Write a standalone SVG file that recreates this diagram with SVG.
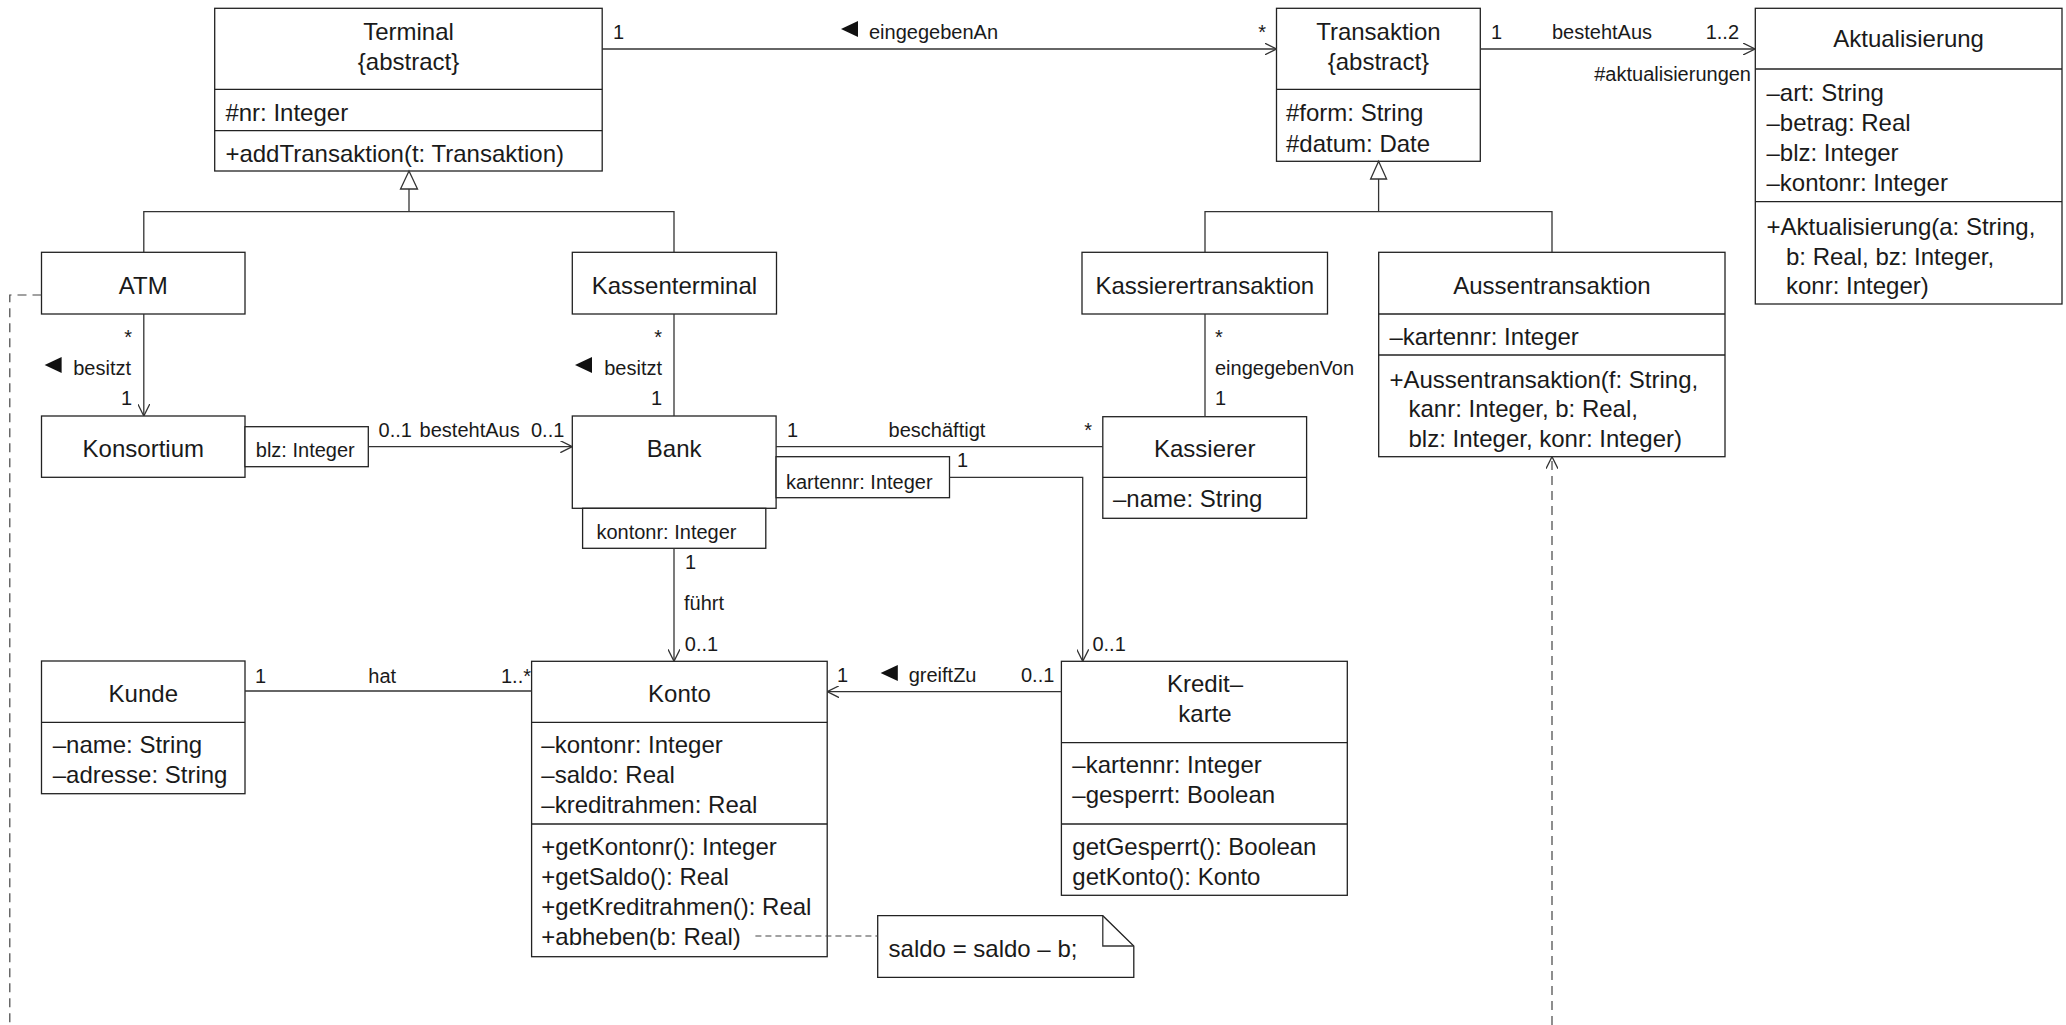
<svg xmlns="http://www.w3.org/2000/svg" width="2066" height="1025" viewBox="0 0 2066 1025">
<style>
  .box{fill:#fff;stroke:#222;stroke-width:1.3}
  .div{stroke:#222;stroke-width:1.3}
  .ln{fill:none;stroke:#333;stroke-width:1.3}
  .dash{fill:none;stroke:#444;stroke-width:1.2;stroke-dasharray:9,6}
  .ndash{fill:none;stroke:#444;stroke-width:1.2;stroke-dasharray:6,4}
  .t{font-family:"Liberation Sans",Arial,sans-serif;font-size:24px;fill:#1a1a1a}
  .c{text-anchor:middle}
  .s{font-family:"Liberation Sans",Arial,sans-serif;font-size:20px;fill:#1a1a1a}
  .e{text-anchor:end}
  .tri{fill:#111}
  .gen{fill:#fff;stroke:#333;stroke-width:1.3}
</style>
<defs>
  <marker id="open" viewBox="0 0 12 12" refX="12" refY="6" markerWidth="12" markerHeight="12" markerUnits="userSpaceOnUse" orient="auto">
    <path d="M0,0 L12,6 L0,12" fill="none" stroke="#333" stroke-width="1.3"/>
  </marker>
</defs>

<g id="Terminal">
  <rect class="box" x="214.7" y="8.3" width="387.5" height="162.7"/>
  <line class="div" x1="214.7" y1="89.3" x2="602.2" y2="89.3"/>
  <line class="div" x1="214.7" y1="130.7" x2="602.2" y2="130.7"/>
  <text class="t c" x="408.5" y="39.5">Terminal</text>
  <text class="t c" x="408.5" y="69.5">{abstract}</text>
  <text class="t" x="225.4" y="121">#nr: Integer</text>
  <text class="t" x="225.4" y="162">+addTransaktion(t: Transaktion)</text>
</g>

<g id="Transaktion">
  <rect class="box" x="1276.5" y="8.3" width="203.8" height="153"/>
  <line class="div" x1="1276.5" y1="89.3" x2="1480.3" y2="89.3"/>
  <text class="t c" x="1378.4" y="39.5">Transaktion</text>
  <text class="t c" x="1378.4" y="69.5">{abstract}</text>
  <text class="t" x="1286" y="121">#form: String</text>
  <text class="t" x="1286" y="151.5">#datum: Date</text>
</g>

<g id="Aktualisierung">
  <rect class="box" x="1755.3" y="8.3" width="306.7" height="295.7"/>
  <line class="div" x1="1755.3" y1="69" x2="2062" y2="69"/>
  <line class="div" x1="1755.3" y1="201.7" x2="2062" y2="201.7"/>
  <text class="t c" x="1908.6" y="47">Aktualisierung</text>
  <text class="t" x="1766.5" y="101">–art: String</text>
  <text class="t" x="1766.5" y="131">–betrag: Real</text>
  <text class="t" x="1766.5" y="161">–blz: Integer</text>
  <text class="t" x="1766.5" y="191">–kontonr: Integer</text>
  <text class="t" x="1766.5" y="235">+Aktualisierung(a: String,</text>
  <text class="t" x="1786" y="264.5">b: Real, bz: Integer,</text>
  <text class="t" x="1786" y="294">konr: Integer)</text>
</g>

<g id="ATM">
  <rect class="box" x="41.5" y="252.3" width="203.5" height="61.7"/>
  <text class="t c" x="143.3" y="294">ATM</text>
</g>

<g id="Kassenterminal">
  <rect class="box" x="572.3" y="252.3" width="204.2" height="61.7"/>
  <text class="t c" x="674.4" y="294">Kassenterminal</text>
</g>

<g id="Kassierertransaktion">
  <rect class="box" x="1082" y="252.3" width="245.5" height="61.7"/>
  <text class="t c" x="1204.8" y="294">Kassierertransaktion</text>
</g>

<g id="Aussentransaktion">
  <rect class="box" x="1378.7" y="252.3" width="346.3" height="204.4"/>
  <line class="div" x1="1378.7" y1="314" x2="1725" y2="314"/>
  <line class="div" x1="1378.7" y1="355" x2="1725" y2="355"/>
  <text class="t c" x="1551.9" y="294">Aussentransaktion</text>
  <text class="t" x="1389.4" y="345">–kartennr: Integer</text>
  <text class="t" x="1389.4" y="387.5">+Aussentransaktion(f: String,</text>
  <text class="t" x="1408.5" y="417">kanr: Integer, b: Real,</text>
  <text class="t" x="1408.5" y="446.5">blz: Integer, konr: Integer)</text>
</g>

<g id="Konsortium">
  <rect class="box" x="41.5" y="416" width="203.5" height="61.3"/>
  <text class="t c" x="143.3" y="456.7">Konsortium</text>
  <rect class="box" x="245" y="426.7" width="123.3" height="40"/>
  <text class="s" x="255.8" y="457">blz: Integer</text>
</g>

<g id="Bank">
  <rect class="box" x="572.3" y="416" width="203.8" height="92.3"/>
  <text class="t c" x="674.2" y="456.7">Bank</text>
  <rect class="box" x="776.1" y="456.7" width="173.4" height="41"/>
  <text class="s" x="785.9" y="488.5">kartennr: Integer</text>
  <rect class="box" x="582.6" y="508.3" width="183.2" height="40"/>
  <text class="s" x="596.4" y="539">kontonr: Integer</text>
</g>

<g id="Kassierer">
  <rect class="box" x="1102.8" y="416.7" width="203.8" height="101.6"/>
  <line class="div" x1="1102.8" y1="477.3" x2="1306.6" y2="477.3"/>
  <text class="t c" x="1204.7" y="456.5">Kassierer</text>
  <text class="t" x="1113" y="506.7">–name: String</text>
</g>

<g id="Kunde">
  <rect class="box" x="41.5" y="661" width="203.5" height="132.7"/>
  <line class="div" x1="41.5" y1="722.3" x2="245" y2="722.3"/>
  <text class="t c" x="143.3" y="701.7">Kunde</text>
  <text class="t" x="52.7" y="753.3">–name: String</text>
  <text class="t" x="52.7" y="783.3">–adresse: String</text>
</g>

<g id="Konto">
  <rect class="box" x="531.6" y="661.3" width="295.6" height="295.4"/>
  <line class="div" x1="531.6" y1="722.3" x2="827.2" y2="722.3"/>
  <line class="div" x1="531.6" y1="824" x2="827.2" y2="824"/>
  <text class="t c" x="679.4" y="701.7">Konto</text>
  <text class="t" x="541.3" y="753">–kontonr: Integer</text>
  <text class="t" x="541.3" y="783.3">–saldo: Real</text>
  <text class="t" x="541.3" y="813.3">–kreditrahmen: Real</text>
  <text class="t" x="541.3" y="855">+getKontonr(): Integer</text>
  <text class="t" x="541.3" y="885">+getSaldo(): Real</text>
  <text class="t" x="541.3" y="915">+getKreditrahmen(): Real</text>
  <text class="t" x="541.3" y="945">+abheben(b: Real)</text>
</g>

<g id="Kreditkarte">
  <rect class="box" x="1061.4" y="661.3" width="285.9" height="234"/>
  <line class="div" x1="1061.4" y1="742.7" x2="1347.3" y2="742.7"/>
  <line class="div" x1="1061.4" y1="824" x2="1347.3" y2="824"/>
  <text class="t c" x="1205" y="691.7">Kredit–</text>
  <text class="t c" x="1205" y="721.7">karte</text>
  <text class="t" x="1072.3" y="772.7">–kartennr: Integer</text>
  <text class="t" x="1072.3" y="802.7">–gesperrt: Boolean</text>
  <text class="t" x="1072.3" y="855">getGesperrt(): Boolean</text>
  <text class="t" x="1072.3" y="885">getKonto(): Konto</text>
</g>

<g id="Note">
  <path class="box" d="M877.7,915.7 L1102.8,915.7 L1133.8,946 L1133.8,977.3 L877.7,977.3 Z"/>
  <polyline class="ln" points="1102.8,915.7 1102.8,946 1133.8,946"/>
  <text class="t" x="888.6" y="956.7">saldo = saldo – b;</text>
</g>

<g id="connectors">
  <!-- Terminal -> Transaktion eingegebenAn -->
  <line class="ln" x1="602" y1="49" x2="1276.5" y2="49" marker-end="url(#open)"/>
  <text class="s" x="613" y="39">1</text>
  <polygon class="tri" points="858,21 858,37 841,29"/>
  <text class="s" x="869" y="39">eingegebenAn</text>
  <text class="s e" x="1266" y="39">*</text>
  <!-- Transaktion -> Aktualisierung bestehtAus -->
  <line class="ln" x1="1480" y1="49" x2="1755" y2="49" marker-end="url(#open)"/>
  <text class="s" x="1491" y="39">1</text>
  <text class="s" x="1552" y="39">bestehtAus</text>
  <text class="s e" x="1739" y="39">1..2</text>
  <text class="s e" x="1751" y="81">#aktualisierungen</text>
  <!-- Terminal generalization -->
  <polyline class="ln" points="143.8,252.3 143.8,211.7 674,211.7 674,252.3"/>
  <line class="ln" x1="409" y1="189" x2="409" y2="211.7"/>
  <polygon class="gen" points="409,171 400.5,189 417.5,189"/>
  <!-- Transaktion generalization -->
  <polyline class="ln" points="1205,252.3 1205,211.7 1552,211.7 1552,252.3"/>
  <line class="ln" x1="1378.6" y1="179" x2="1378.6" y2="211.7"/>
  <polygon class="gen" points="1378.6,161.3 1370.6,179 1386.6,179"/>
  <!-- ATM -> Konsortium besitzt -->
  <line class="ln" x1="143.8" y1="314" x2="143.8" y2="416" marker-end="url(#open)"/>
  <text class="s e" x="132" y="344">*</text>
  <polygon class="tri" points="61.6,357 61.6,373 44.6,365"/>
  <text class="s e" x="131" y="375">besitzt</text>
  <text class="s e" x="132" y="405">1</text>
  <!-- Kassenterminal - Bank besitzt -->
  <line class="ln" x1="674" y1="314" x2="674" y2="416"/>
  <text class="s e" x="662" y="344">*</text>
  <polygon class="tri" points="592,357 592,373 575,365"/>
  <text class="s e" x="662" y="375">besitzt</text>
  <text class="s e" x="662" y="405">1</text>
  <!-- Kassierertransaktion - Kassierer eingegebenVon -->
  <line class="ln" x1="1205" y1="314" x2="1205" y2="416.7"/>
  <text class="s" x="1215" y="344">*</text>
  <text class="s" x="1215" y="375">eingegebenVon</text>
  <text class="s" x="1215" y="405">1</text>
  <!-- Konsortium -> Bank bestehtAus -->
  <line class="ln" x1="368.3" y1="446.7" x2="572.3" y2="446.7" marker-end="url(#open)"/>
  <text class="s" x="378.6" y="436.5">0..1</text>
  <text class="s" x="419.6" y="436.5">bestehtAus</text>
  <text class="s" x="531" y="436.5">0..1</text>
  <!-- Bank - Kassierer beschaeftigt -->
  <line class="ln" x1="776" y1="446.7" x2="1102.8" y2="446.7"/>
  <text class="s" x="787" y="436.7">1</text>
  <text class="s" x="888.6" y="436.7">beschäftigt</text>
  <text class="s e" x="1092" y="436.7">*</text>
  <!-- Bank (kartennr) -> Kreditkarte -->
  <polyline class="ln" points="949.5,477.3 1082.7,477.3 1082.7,661.3" marker-end="url(#open)"/>
  <text class="s" x="957" y="466.7">1</text>
  <text class="s" x="1092.4" y="651">0..1</text>
  <!-- Bank (kontonr) -> Konto fuehrt -->
  <line class="ln" x1="674" y1="548.3" x2="674" y2="661.3" marker-end="url(#open)"/>
  <text class="s" x="685" y="569">1</text>
  <text class="s" x="684" y="610">führt</text>
  <text class="s" x="684.8" y="651">0..1</text>
  <!-- Kunde - Konto hat -->
  <line class="ln" x1="245" y1="691" x2="531.6" y2="691"/>
  <text class="s" x="255" y="682.7">1</text>
  <text class="s" x="368.3" y="682.7">hat</text>
  <text class="s e" x="531" y="682.7">1..*</text>
  <!-- Kreditkarte -> Konto greiftZu -->
  <line class="ln" x1="1061.4" y1="691.7" x2="827.2" y2="691.7" marker-end="url(#open)"/>
  <text class="s" x="837" y="681.7">1</text>
  <polygon class="tri" points="897.8,665 897.8,681 880.6,673"/>
  <text class="s" x="908.7" y="681.7">greiftZu</text>
  <text class="s" x="1021" y="681.7">0..1</text>
  <!-- note link -->
  <line class="ndash" x1="755.4" y1="936" x2="877.7" y2="936"/>
  <!-- dependency to Aussentransaktion -->
  <line class="dash" x1="1552" y1="1025" x2="1552" y2="456.7" marker-end="url(#open)"/>
  <!-- dashed line from ATM -->
  <polyline class="dash" points="41.5,295 9.8,295 9.8,1025"/>
</g>
</svg>
